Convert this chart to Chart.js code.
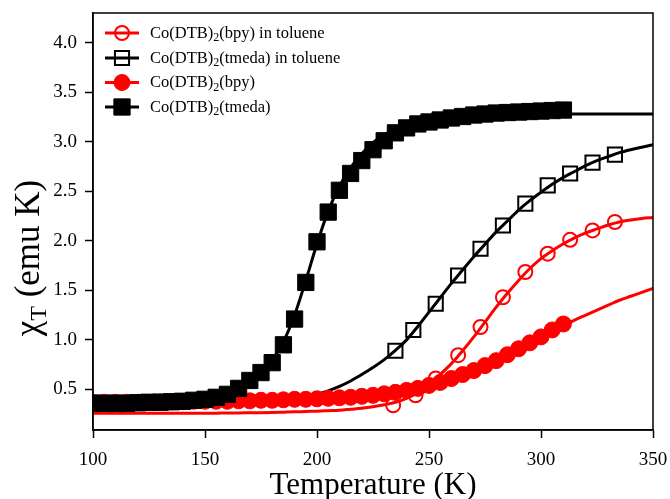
<!DOCTYPE html>
<html>
<head>
<meta charset="utf-8">
<script src="https://cdn.jsdelivr.net/npm/chart.js@4.4.1/dist/chart.umd.min.js"></script>
<style>
html, body { margin: 0; padding: 0; background: #fff; }
#wrap { width: 670px; height: 499px; }
</style>
</head>
<body>
<div id="wrap"><canvas id="chi-canvas" width="670" height="499"></canvas></div>
<script>
// chi*T vs temperature
const solidTemps = [100, 105, 110, 115, 120, 125, 130, 135, 140, 145, 150, 155, 160, 165, 170, 175, 180, 185, 190, 195,
    200, 205, 210, 215, 220, 225, 230, 235, 240, 245, 250, 255, 260, 265, 270, 275, 280, 285, 290, 295, 300, 305, 310]
const tmedaSolid = [0.36, 0.36, 0.36, 0.36, 0.365, 0.37, 0.37, 0.375, 0.38, 0.39, 0.40, 0.42, 0.45, 0.51, 0.59, 0.67, 0.77, 0.95, 1.21, 1.58,
    1.99, 2.29, 2.51, 2.68, 2.81, 2.92, 3.01, 3.09, 3.14, 3.18, 3.20, 3.22, 3.24, 3.255, 3.27, 3.28, 3.29, 3.295, 3.30, 3.305, 3.31, 3.315, 3.32]
const bpySolid = [0.37, 0.37, 0.37, 0.37, 0.37, 0.37, 0.375, 0.375, 0.375, 0.38, 0.38, 0.38, 0.38, 0.385, 0.385, 0.39, 0.39, 0.395, 0.40, 0.40,
    0.405, 0.41, 0.415, 0.42, 0.43, 0.44, 0.455, 0.47, 0.49, 0.51, 0.54, 0.57, 0.61, 0.65, 0.69, 0.74, 0.79, 0.85, 0.91, 0.97, 1.03, 1.10, 1.16]

const tmedaTolTemps = [235, 243, 253, 263, 273, 283, 293, 303, 313, 323, 333]
const tmedaTol = [0.89, 1.10, 1.365, 1.65, 1.92, 2.155, 2.375, 2.56, 2.68, 2.79, 2.87]
const bpyTolTemps = [234, 244, 253, 263, 273, 283, 293, 303, 313, 323, 333]
const bpyTol = [0.34, 0.44, 0.61, 0.845, 1.13, 1.43, 1.685, 1.87, 2.01, 2.105, 2.19]

// fitted curves
const fitTemps = [100, 105, 110, 115, 120, 125, 130, 135, 140, 145, 150, 155, 160, 165, 170, 175, 180, 185, 190, 195,
    200, 205, 210, 215, 220, 225, 230, 235, 240, 245, 250, 255, 260, 265, 270, 275, 280, 285, 290, 295,
    300, 305, 310, 315, 320, 325, 330, 335, 340, 345, 350]
const tmedaFit = [0.35, 0.35, 0.35, 0.35, 0.355, 0.355, 0.36, 0.365, 0.37, 0.38,
    0.39, 0.41, 0.44, 0.50, 0.59, 0.68, 0.80, 0.98, 1.25, 1.60,
    1.97, 2.30, 2.55, 2.74, 2.88, 2.99, 3.07, 3.13, 3.17, 3.20,
    3.23, 3.245, 3.26, 3.27, 3.275, 3.28, 3.28, 3.28, 3.28, 3.28,
    3.28, 3.28, 3.28, 3.28, 3.28, 3.28, 3.28, 3.28, 3.28, 3.28, 3.28]
const bpyFit = [0.36, 0.36, 0.36, 0.36, 0.365, 0.365, 0.37, 0.37, 0.37, 0.375,
    0.375, 0.38, 0.38, 0.385, 0.385, 0.39, 0.39, 0.395, 0.40, 0.40,
    0.405, 0.41, 0.415, 0.42, 0.43, 0.44, 0.455, 0.47, 0.49, 0.51,
    0.54, 0.57, 0.605, 0.645, 0.69, 0.735, 0.785, 0.84, 0.90, 0.96,
    1.02, 1.08, 1.14, 1.20, 1.25, 1.30, 1.35, 1.40, 1.44, 1.48, 1.52]
const bpyTolFit = [0.26, 0.26, 0.26, 0.26, 0.26, 0.26, 0.26, 0.26, 0.26, 0.26,
    0.26, 0.26, 0.262, 0.262, 0.264, 0.265, 0.267, 0.27, 0.273, 0.277,
    0.28, 0.285, 0.29, 0.30, 0.31, 0.325, 0.345, 0.37, 0.41, 0.47,
    0.55, 0.65, 0.76, 0.89, 1.03, 1.18, 1.33, 1.47, 1.60, 1.72,
    1.82, 1.90, 1.97, 2.03, 2.08, 2.12, 2.16, 2.19, 2.21, 2.225, 2.235]
const tmedaTolFit = [0.35, 0.35, 0.35, 0.35, 0.35, 0.35, 0.35, 0.35, 0.35, 0.35,
    0.35, 0.355, 0.355, 0.36, 0.365, 0.37, 0.38, 0.39, 0.405, 0.425,
    0.45, 0.485, 0.53, 0.585, 0.65, 0.72, 0.80, 0.895, 1.0, 1.135,
    1.28, 1.425, 1.57, 1.705, 1.84, 1.965, 2.09, 2.20, 2.31, 2.405,
    2.49, 2.57, 2.64, 2.70, 2.76, 2.81, 2.85, 2.89, 2.92, 2.945, 2.97]

const seriesLabels = ['Co(DTB)₂(bpy) in toluene', 'Co(DTB)₂(tmeda) in toluene', 'Co(DTB)₂(bpy)', 'Co(DTB)₂(tmeda)']
const xTicks = [100, 150, 200, 250, 300, 350]
const yTicks = [0.5, 1.0, 1.5, 2.0, 2.5, 3.0, 3.5, 4.0]
const xTitle = 'Temperature (K)'
const yTitle = ['χ', 'T', ' (emu K)']   // chi, subscript T, rest

const SERIF = '"Liberation Serif", "Times New Roman", serif'

function pts(xs, ys) {
    return xs.map((x, i) => ({ x: x, y: ys[i] }))
}

function markerSet(label, xs, ys, color, style, radius, fill, order) {
    return {
        label: label,
        data: pts(xs, ys),
        showLine: false,
        pointStyle: style,
        pointRadius: radius,
        pointBorderWidth: fill ? 1 : 2,
        pointBorderColor: color,
        pointBackgroundColor: fill ? color : 'rgba(0,0,0,0)',
        borderColor: color,
        backgroundColor: fill ? color : 'rgba(0,0,0,0)',
        clip: 0,
        order: order
    }
}

function fitSet(ys, color, order) {
    return {
        label: '',
        data: pts(fitTemps, ys),
        showLine: true,
        pointRadius: 0,
        borderColor: color,
        borderWidth: 3,
        cubicInterpolationMode: 'monotone',
        clip: 0,
        order: order
    }
}

// draws text where '₂' becomes a real lowered subscript
function drawSubText(ctx, text, x, y, size) {
    let parts = text.split('₂')
    ctx.font = size + 'px ' + SERIF
    ctx.fillText(parts[0], x, y)
    let w = ctx.measureText(parts[0]).width
    if (parts.length > 1) {
        ctx.font = Math.round(size * 0.7) + 'px ' + SERIF
        ctx.fillText('2', x + w, y + size * 0.22)
        w += ctx.measureText('2').width
        ctx.font = size + 'px ' + SERIF
        ctx.fillText(parts[1], x + w, y)
    }
}

function drawMarker(ctx, ds, x, y) {
    let r = ds.pointRadius
    ctx.lineWidth = ds.pointBorderWidth
    ctx.strokeStyle = ds.pointBorderColor
    ctx.fillStyle = ds.pointBackgroundColor
    ctx.beginPath()
    if (ds.pointStyle === 'rect') {
        let h = Math.SQRT1_2 * r
        ctx.rect(x - h, y - h, 2 * h, 2 * h)
    } else {
        ctx.arc(x, y, r, 0, Math.PI * 2)
    }
    ctx.fill()
    ctx.stroke()
}

// keep the plot box where the reference has it, labels may hang over
function noScalePadding(s) {
    s.paddingLeft = 0
    s.paddingRight = 0
    s.paddingTop = 0
    s.paddingBottom = 0
}

const framePlugin = {
    id: 'frameAndLabels',
    afterDraw(chart) {
        const ctx = chart.ctx
        const a = chart.chartArea
        ctx.save()
        // axes box
        ctx.strokeStyle = '#000'
        ctx.lineWidth = 1.5
        ctx.strokeRect(a.left, a.top, a.right - a.left, a.bottom - a.top)

        // inset legend, top left
        ctx.textBaseline = 'alphabetic'
        ctx.textAlign = 'left'
        const rowY = [33, 58, 82.5, 107]
        for (let i = 0; i < seriesLabels.length; ++i) {
            let ds = chart.data.datasets[i]
            let y = rowY[i]
            ctx.strokeStyle = ds.borderColor
            ctx.lineWidth = 3
            ctx.beginPath()
            ctx.moveTo(105, y)
            ctx.lineTo(139, y)
            ctx.stroke()
            drawMarker(ctx, ds, 122, y)
            ctx.fillStyle = '#000'
            drawSubText(ctx, seriesLabels[i], 150, y + 4.5, 16.5)
        }

        // axis titles
        ctx.fillStyle = '#000'
        ctx.font = '31px ' + SERIF
        ctx.textAlign = 'center'
        ctx.fillText(xTitle, (a.left + a.right) / 2, 494)

        ctx.translate(39, 258)
        ctx.rotate(-Math.PI / 2)
        ctx.textAlign = 'left'
        const big = 35, small = 24
        ctx.font = big + 'px ' + SERIF
        let w0 = ctx.measureText(yTitle[0]).width
        ctx.font = small + 'px ' + SERIF
        let w1 = ctx.measureText(yTitle[1]).width
        ctx.font = big + 'px ' + SERIF
        let w2 = ctx.measureText(yTitle[2]).width
        let sx = -(w0 + w1 + w2) / 2
        ctx.fillText(yTitle[0], sx, 0)
        ctx.font = small + 'px ' + SERIF
        ctx.fillText(yTitle[1], sx + w0, 7)
        ctx.font = big + 'px ' + SERIF
        ctx.fillText(yTitle[2], sx + w0 + w1, 0)
        ctx.restore()
    }
}

function initChart()
{
    let ctx = document.getElementById('chi-canvas').getContext('2d')
    let tickFont = { family: SERIF, size: 19 }
    return new Chart(ctx, {
        type: 'scatter',
        data: {
            datasets: [
                markerSet(seriesLabels[0], bpyTolTemps, bpyTol, '#ff0000', 'circle', 7, false, 5),
                markerSet(seriesLabels[1], tmedaTolTemps, tmedaTol, '#000000', 'rect', 10, false, 4),
                markerSet(seriesLabels[2], solidTemps, bpySolid, '#ff0000', 'circle', 8, true, 2),
                markerSet(seriesLabels[3], solidTemps, tmedaSolid, '#000000', 'rect', 11.5, true, 1),
                fitSet(bpyTolFit, '#ff0000', 9),
                fitSet(tmedaTolFit, '#000000', 8),
                fitSet(bpyFit, '#ff0000', 7),
                fitSet(tmedaFit, '#000000', 6)
            ]
        },
        options: {
            responsive: false,
            animation: false,
            devicePixelRatio: 1,
            layout: { padding: { top: 13, right: 17, left: 0, bottom: 0 } },
            plugins: {
                legend: { display: false },
                tooltip: { enabled: false }
            },
            scales: {
                x: {
                    type: 'linear',
                    min: 100,
                    max: 350,
                    afterBuildTicks: (s) => { s.ticks = xTicks.map(v => ({ value: v })) },
                    afterFit: (s) => { s.height = 69; noScalePadding(s) },
                    ticks: { color: '#000', font: tickFont, padding: 11, maxRotation: 0,
                             callback: (v) => String(v) },
                    grid: { drawOnChartArea: false, drawTicks: true, tickLength: 8, tickWidth: 1.5, tickColor: '#000' },
                    border: { display: true, color: '#000', width: 1.5 },
                    title: { display: false, text: xTitle }
                },
                y: {
                    type: 'linear',
                    min: 0.09,
                    max: 4.3,
                    afterBuildTicks: (s) => { s.ticks = yTicks.map(v => ({ value: v })) },
                    afterFit: (s) => { s.width = 93; noScalePadding(s) },
                    ticks: { color: '#000', font: tickFont, padding: 8,
                             callback: (v) => v.toFixed(1) },
                    grid: { drawOnChartArea: false, drawTicks: true, tickLength: 8, tickWidth: 1.5, tickColor: '#000' },
                    border: { display: true, color: '#000', width: 1.5 },
                    title: { display: false, text: 'χT (emu K)' }
                }
            }
        },
        plugins: [framePlugin]
    })
}

initChart()
</script>
</body>
</html>
